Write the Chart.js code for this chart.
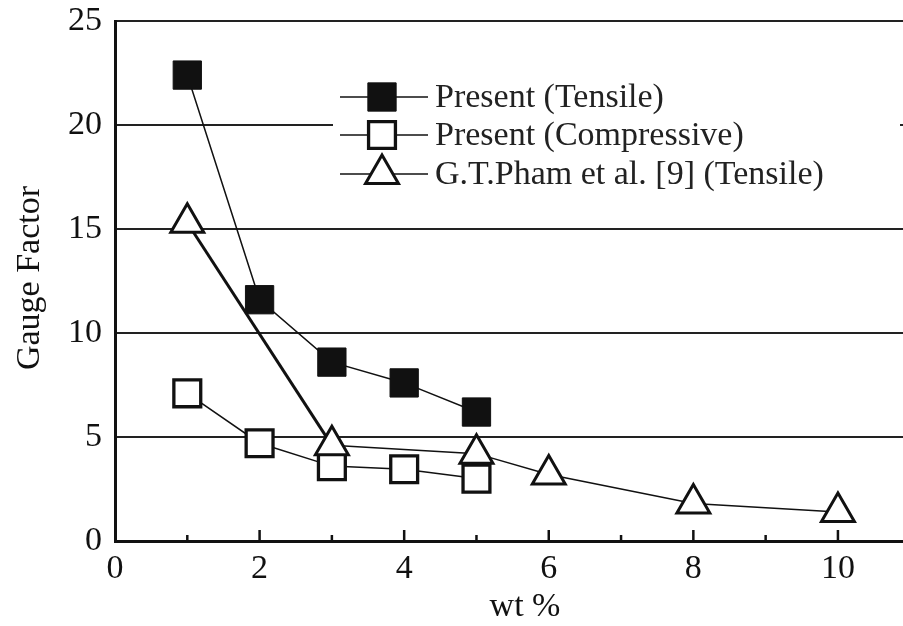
<!DOCTYPE html>
<html>
<head>
<meta charset="utf-8">
<title>Gauge Factor vs wt %</title>
<script src="https://cdn.jsdelivr.net/npm/chart.js@4.4.1/dist/chart.umd.min.js"></script>
<style>
  html, body { margin: 0; padding: 0; background: #fff; }
  canvas { display: block; }
</style>
</head>
<body>
<canvas id="gfChart" width="903" height="626"></canvas>
<script>
// wt % of the present samples
const presentWt = [1, 2, 3, 4, 5];
const tensileGF = [22.4, 11.6, 8.6, 7.6, 6.2];
const compressiveGF = [7.1, 4.7, 3.6, 3.45, 3.0];

// G.T.Pham et al. [9]
const phamWt = [1, 3, 5, 6, 8, 10];
const phamGF = [15.3, 4.6, 4.2, 3.2, 1.8, 1.4];

const seriesLabels = [
  "Present (Tensile)",
  "Present (Compressive)",
  "G.T.Pham et al. [9] (Tensile)",
];
const xTickLabels = [0, 2, 4, 6, 8, 10];
const yTickLabels = [0, 5, 10, 15, 20, 25];

const serif = "'Liberation Serif', 'Times New Roman', serif";

function toPoints(xs, ys) {
  return xs.map((x, i) => ({ x: x, y: ys[i] }));
}

// inside tick marks on the x axis (majors on even values, minors on odd)
const innerTicks = {
  id: "innerTicks",
  afterDatasetsDraw(chart) {
    const { ctx, scales } = chart;
    const x = scales.x;
    const y0 = chart.chartArea.bottom;
    ctx.save();
    ctx.strokeStyle = "#111";
    ctx.lineWidth = 2.5;
    x.ticks.forEach((t) => {
      if (t.value === 0) return;
      const px = x.getPixelForValue(t.value);
      const len = t.value % 2 === 0 ? 11 : 6;
      ctx.beginPath();
      ctx.moveTo(px, y0);
      ctx.lineTo(px, y0 - len);
      ctx.stroke();
    });
    ctx.restore();
  },
};

// legend with the line running through the marker, plus axis titles
const sideText = {
  id: "sideText",
  afterDraw(chart) {
    const { ctx } = chart;
    ctx.save();

    // legend box (white, hides the grid line underneath)
    ctx.fillStyle = "#fff";
    ctx.fillRect(333, 76, 567, 120);
    const rows = [97, 135, 174];
    chart.data.datasets.forEach((ds, i) => {
      const y = rows[i];
      ctx.strokeStyle = "#111";
      ctx.lineWidth = 1.5;
      ctx.beginPath();
      ctx.moveTo(340, y);
      ctx.lineTo(428, y);
      ctx.stroke();
      ctx.fillStyle = ds.pointBackgroundColor;
      ctx.strokeStyle = ds.pointBorderColor;
      ctx.lineWidth = ds.pointBorderWidth;
      Chart.helpers.drawPoint(ctx, {
        pointStyle: ds.pointStyle,
        radius: ds.pointRadius,
        borderWidth: ds.pointBorderWidth,
        rotation: 0,
      }, 382, y);
      ctx.fillStyle = "#222";
      ctx.font = "34px " + serif;
      ctx.textAlign = "left";
      ctx.textBaseline = "middle";
      ctx.fillText(ds.label, 435, y + 1);
    });

    // axis titles
    ctx.fillStyle = "#111";
    ctx.font = "34px " + serif;
    ctx.textAlign = "center";
    ctx.textBaseline = "middle";
    ctx.fillText("wt %", 525, 607);
    ctx.translate(30, 278);
    ctx.rotate(-Math.PI / 2);
    ctx.fillText("Gauge Factor", 0, 0);
    ctx.restore();
  },
};

new Chart(document.getElementById("gfChart"), {
  type: "line",
  data: {
    datasets: [
      {
        label: seriesLabels[0],
        data: toPoints(presentWt, tensileGF),
        borderColor: "#111",
        borderWidth: 1.5,
        pointStyle: "rect",
        pointRadius: 20,
        pointBorderWidth: 1,
        pointBackgroundColor: "#111",
        pointBorderColor: "#111",
        order: 2,
      },
      {
        label: seriesLabels[1],
        data: toPoints(presentWt, compressiveGF),
        borderColor: "#111",
        borderWidth: 1.5,
        pointStyle: "rect",
        pointRadius: 19,
        pointBorderWidth: 3.3,
        pointBackgroundColor: "#fff",
        pointBorderColor: "#111",
        order: 1,
      },
      {
        label: seriesLabels[2],
        data: toPoints(phamWt, phamGF),
        borderColor: "#111",
        borderWidth: 1.5,
        segment: {
          borderWidth: (c) => (c.p0DataIndex === 0 ? 3 : 1.5),
        },
        pointStyle: "triangle",
        pointRadius: 19,
        pointBorderWidth: 3,
        pointBackgroundColor: "#fff",
        pointBorderColor: "#111",
        order: 0,
      },
    ],
  },
  options: {
    responsive: false,
    animation: false,
    events: [],
    layout: {
      autoPadding: false,
      padding: { top: 21, right: 0, left: 0, bottom: 0 },
    },
    plugins: {
      legend: { display: false },
      tooltip: { enabled: false },
    },
    scales: {
      x: {
        type: "linear",
        min: 0,
        max: 10.9,
        afterFit: (s) => {
          s.height = 85;
          s.paddingLeft = 0;
          s.paddingRight = 0;
        },
        afterBuildTicks: (s) => {
          s.ticks = [];
          for (let v = 0; v <= 10; v++) s.ticks.push({ value: v });
        },
        ticks: {
          padding: 0,
          color: "#111",
          font: { family: serif, size: 34 },
          callback: (v) => (xTickLabels.includes(v) ? String(v) : ""),
          maxRotation: 0,
          autoSkip: false,
        },
        grid: { display: false },
        border: { display: true, color: "#111", width: 3 },
      },
      y: {
        min: 0,
        max: 25,
        afterFit: (s) => {
          s.width = 115;
          s.paddingTop = 0;
          s.paddingBottom = 0;
        },
        afterBuildTicks: (s) => {
          s.ticks = yTickLabels.map((v) => ({ value: v }));
        },
        ticks: {
          padding: 13,
          color: "#111",
          font: { family: serif, size: 34 },
        },
        grid: { color: "#222", lineWidth: 2, drawTicks: false },
        border: { display: true, color: "#111", width: 3 },
      },
    },
  },
  plugins: [innerTicks, sideText],
});
</script>
</body>
</html>
